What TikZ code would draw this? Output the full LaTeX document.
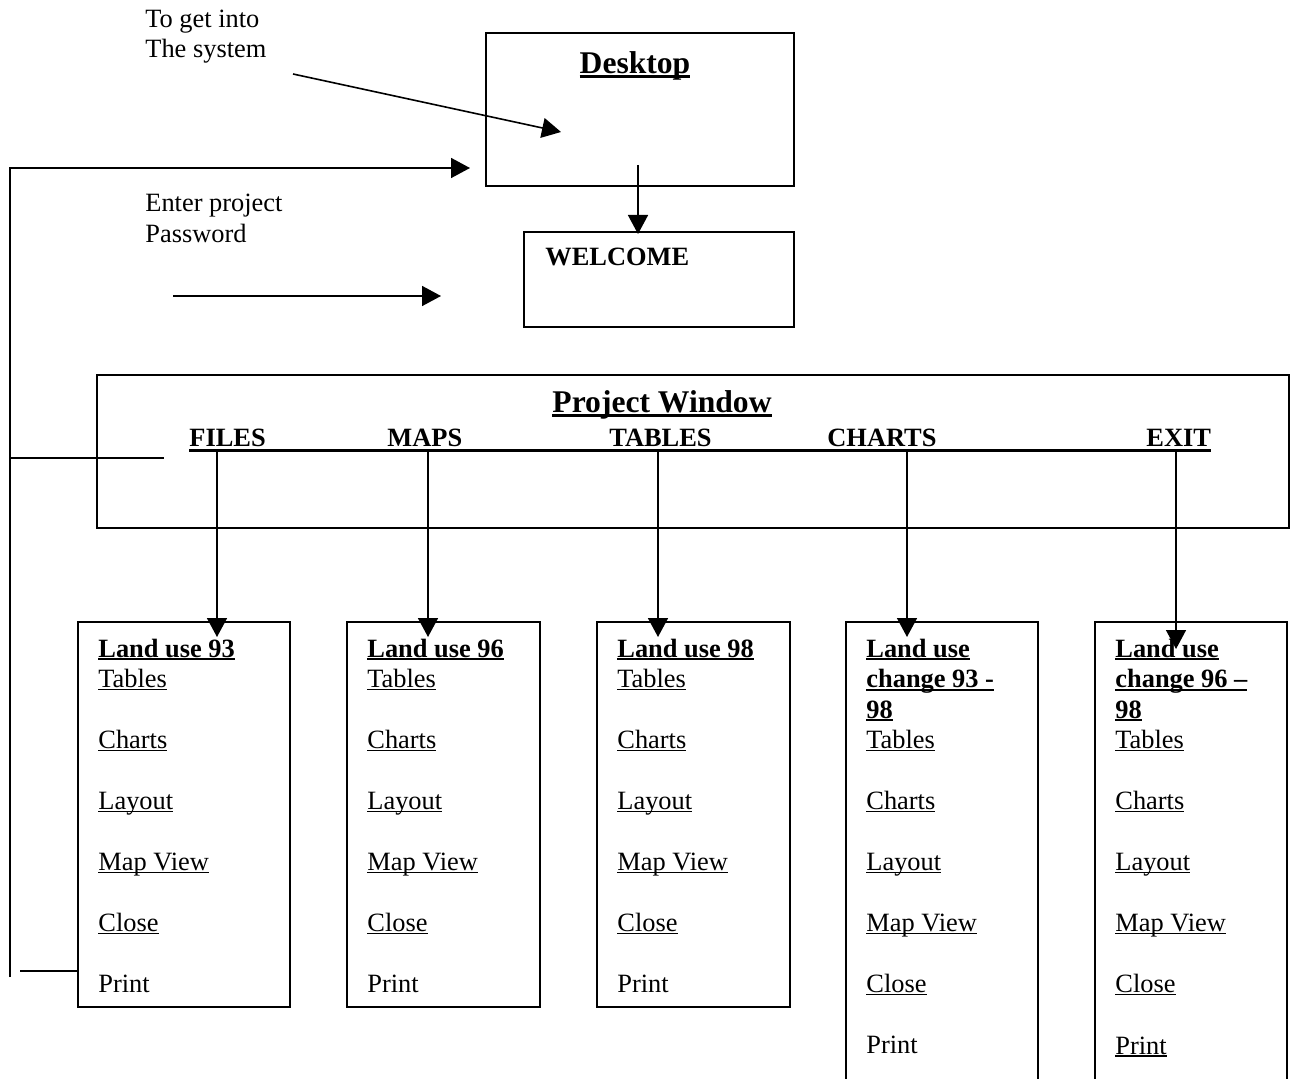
\documentclass[tikz,border=0pt]{standalone}
\usepackage{fontspec}
\setmainfont{Liberation Serif}
\usetikzlibrary{arrows.meta}
\newsavebox\ulbox
\newcommand\ulr[1]{\sbox\ulbox{#1}\rlap{\rule[-0.11em]{\wd\ulbox}{0.06em}}\usebox\ulbox}
\newcommand\ulb[1]{\sbox\ulbox{\bfseries #1}\rlap{\rule[-0.13em]{\wd\ulbox}{0.09em}}\usebox\ulbox}
\tikzset{
  frame/.style={draw, line width=0.9pt, inner sep=0pt, anchor=north west},
  txt/.style={anchor=base west, inner sep=0pt, font=\fontsize{13.2}{15.25}\selectfont},
  bigtxt/.style={anchor=base, inner sep=0pt, font=\fontsize{15.8}{18}\selectfont},
  conn/.style={line width=0.8pt},
  arr/.style={conn, -{Triangle[length=9.5pt,width=10pt]}},
}
\begin{document}
\begin{tikzpicture}[x=0.5pt,y=-0.5pt]
\useasboundingbox (0,0) rectangle (1294,1079);
\clip (0,0) rectangle (1294,1079);

% boxes
\node[frame, minimum width=154pt, minimum height=76.5pt] (desk) at (485,32) {};
\node[frame, minimum width=135pt, minimum height=47.5pt] (welc) at (523,231) {};
\node[frame, minimum width=596pt, minimum height=76.5pt] (proj) at (96,374) {};
\node[frame, minimum width=106pt, minimum height=192.5pt] (b1) at (77,621) {};
\node[frame, minimum width=96.5pt, minimum height=192.5pt] (b2) at (346,621) {};
\node[frame, minimum width=96.5pt, minimum height=192.5pt] (b3) at (596,621) {};
\node[frame, minimum width=96pt, minimum height=250pt] (b4) at (845,621) {};
\node[frame, minimum width=96pt, minimum height=250pt] (b5) at (1094,621) {};

% free texts
\node[txt] (t1) at (145,28) {To get into};
\node[txt] (t2) at (145,58) {The system};
\node[txt] (t3) at (145,212) {Enter project};
\node[txt] (t4) at (145,243) {Password};
\node[bigtxt] (deskt) at (635,74) {\ulb{Desktop}};
\node[txt] (welct) at (545,266) {\textbf{WELCOME}};
\node[bigtxt] (projt) at (662,413) {\ulb{Project Window}};

% menu
\node[txt] (mfiles) at (189,447) {\textbf{FILES}};
\node[txt] (mmaps) at (387,447) {\textbf{MAPS}};
\node[txt] (mtables) at (609,447) {\textbf{TABLES}};
\node[txt] (mcharts) at (827,447) {\textbf{CHARTS}};
\node[txt] (mexit) at (1146,447) {\textbf{EXIT}};
\draw[line width=1.5pt] (mfiles.base west) ++(0,4) coordinate (ulL) -- (mexit.base east |- ulL) coordinate (ulR);

% box 1
\node[txt] (a0) at (98,657) {\ulb{Land use 93}};
\node[txt] (a1) at (98,687.5) {\ulr{Tables}};
\node[txt] (a2) at (98,748.5) {\ulr{Charts}};
\node[txt] (a3) at (98,809.5) {\ulr{Layout}};
\node[txt] (a4) at (98,870.5) {\ulr{Map View}};
\node[txt] (a5) at (98,931.5) {\ulr{Close}};
\node[txt] (a6) at (98,992.5) {Print};
% box 2
\node[txt] (e0) at (367,657) {\ulb{Land use 96}};
\node[txt] (e1) at (367,687.5) {\ulr{Tables}};
\node[txt] (e2) at (367,748.5) {\ulr{Charts}};
\node[txt] (e3) at (367,809.5) {\ulr{Layout}};
\node[txt] (e4) at (367,870.5) {\ulr{Map View}};
\node[txt] (e5) at (367,931.5) {\ulr{Close}};
\node[txt] (e6) at (367,992.5) {Print};
% box 3
\node[txt] (g0) at (617,657) {\ulb{Land use 98}};
\node[txt] (g1) at (617,687.5) {\ulr{Tables}};
\node[txt] (g2) at (617,748.5) {\ulr{Charts}};
\node[txt] (g3) at (617,809.5) {\ulr{Layout}};
\node[txt] (g4) at (617,870.5) {\ulr{Map View}};
\node[txt] (g5) at (617,931.5) {\ulr{Close}};
\node[txt] (g6) at (617,992.5) {Print};
% box 4
\node[txt] (k0) at (866,657) {\ulb{Land use}};
\node[txt] (k0b) at (866,687.5) {\ulb{change 93 -}};
\node[txt] (k0c) at (866,718) {\ulb{98}};
\node[txt] (k1) at (866,748.5) {\ulr{Tables}};
\node[txt] (k2) at (866,809.5) {\ulr{Charts}};
\node[txt] (k3) at (866,870.5) {\ulr{Layout}};
\node[txt] (k4) at (866,931.5) {\ulr{Map View}};
\node[txt] (k5) at (866,992.5) {\ulr{Close}};
\node[txt] (k6) at (866,1053.5) {Print};
% box 5
\node[txt] (m0) at (1115,657) {\ulb{Land use}};
\node[txt] (m0b) at (1115,687.5) {\ulb{change 96 –}};
\node[txt] (m0c) at (1115,718) {\ulb{98}};
\node[txt] (m1) at (1115,748.5) {\ulr{Tables}};
\node[txt] (m2) at (1115,809.5) {\ulr{Charts}};
\node[txt] (m3) at (1115,870.5) {\ulr{Layout}};
\node[txt] (m4) at (1115,931.5) {\ulr{Map View}};
\node[txt] (m5) at (1115,992.5) {\ulr{Close}};
\node[txt] (m6) at (1115,1054) {\ulr{Print}};

% connectors
\coordinate (s1) at (293,74);
\coordinate (s1e) at (561,132);
\draw[arr] (s1) -- (s1e);
\coordinate (s2) at (173,296);
\coordinate (s2e) at (441,296);
\draw[arr] (s2) -- (s2e);
\coordinate (dsk) at (638,165);
\coordinate (dske) at (638,234);
\draw[arr] (dsk) -- (dske);
% return loop
\coordinate (lb) at (10,977);
\coordinate (lt) at (10,168);
\coordinate (le) at (470,168);
\draw[arr] (lb) -- (lt) -- (le);
\coordinate (lm1) at (10,458);
\coordinate (lm2) at (164,458);
\draw[conn] (lm1) -- (lm2);
\coordinate (lp) at (20,971);
\draw[conn] (lp) -- (lp -| b1.west);
% menu to boxes
\coordinate (f1) at (217,451);
\coordinate (f2) at (428,451);
\coordinate (f3) at (658,451);
\coordinate (f4) at (907,451);
\coordinate (f5) at (1176,451);
\draw[arr] (f1) -- ([yshift=-8pt]f1 |- b1.north);
\draw[arr] (f2) -- ([yshift=-8pt]f2 |- b2.north);
\draw[arr] (f3) -- ([yshift=-8pt]f3 |- b3.north);
\draw[arr] (f4) -- ([yshift=-8pt]f4 |- b4.north);
\draw[arr] (f5) -- ([yshift=-14pt]f5 |- b5.north);
\end{tikzpicture}
\end{document}
